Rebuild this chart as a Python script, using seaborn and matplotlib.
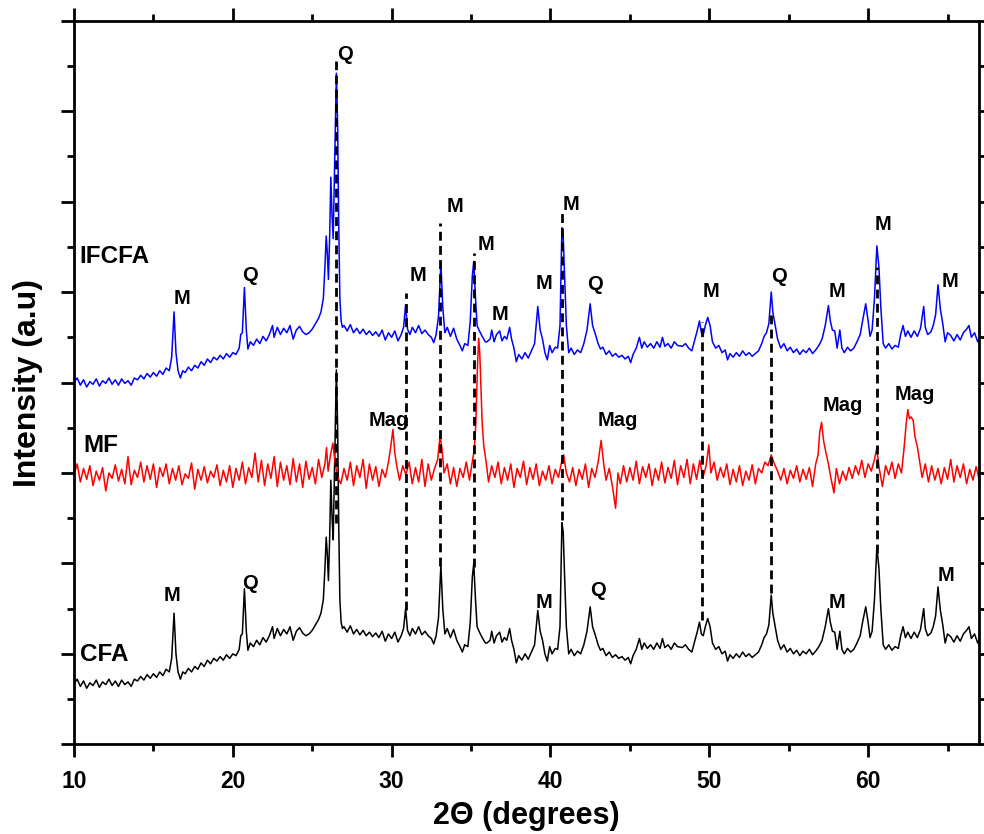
import matplotlib
matplotlib.use("Agg")
import matplotlib.pyplot as plt
import pandas as pd
import seaborn as sns
from matplotlib.ticker import MultipleLocator, NullFormatter

# (2theta, intensity) pairs for each pattern, already stacked on the a.u. scale
cfa_pattern = [
    (10.0, 0.67), (10.2, 0.72), (10.4, 0.64), (10.6, 0.70), (10.8, 0.62), (11.0, 0.68),
    (11.2, 0.65), (11.4, 0.71), (11.6, 0.63), (11.8, 0.69), (12.0, 0.66), (12.2, 0.72),
    (12.4, 0.65), (12.6, 0.70), (12.8, 0.64), (13.0, 0.71), (13.2, 0.66), (13.4, 0.69),
    (13.6, 0.64), (13.8, 0.72), (14.0, 0.70), (14.2, 0.75), (14.4, 0.71), (14.6, 0.77),
    (14.8, 0.73), (15.0, 0.78), (15.2, 0.74), (15.4, 0.80), (15.6, 0.76), (15.8, 0.83),
    (16.0, 0.80), (16.15, 0.95), (16.3, 1.45), (16.42, 1.00), (16.55, 0.80), (16.7, 0.72),
    (16.85, 0.80), (17.0, 0.78), (17.2, 0.84), (17.4, 0.80), (17.6, 0.86), (17.8, 0.83),
    (18.0, 0.90), (18.2, 0.86), (18.4, 0.93), (18.6, 0.89), (18.8, 0.95), (19.0, 0.92),
    (19.2, 0.97), (19.4, 0.93), (19.6, 0.99), (19.8, 0.95), (20.0, 1.00), (20.2, 0.98),
    (20.4, 1.05), (20.5, 1.20), (20.6, 1.22), (20.73, 1.72), (20.85, 1.25), (20.95, 1.04),
    (21.1, 1.12), (21.3, 1.08), (21.5, 1.15), (21.7, 1.10), (21.9, 1.18), (22.1, 1.13),
    (22.3, 1.20), (22.5, 1.30), (22.6, 1.17), (22.8, 1.28), (23.0, 1.20), (23.2, 1.27),
    (23.4, 1.22), (23.6, 1.30), (23.8, 1.15), (24.0, 1.25), (24.2, 1.29), (24.4, 1.23),
    (24.6, 1.20), (24.8, 1.22), (25.0, 1.26), (25.2, 1.32), (25.4, 1.38), (25.55, 1.45),
    (25.7, 1.60), (25.8, 1.95), (25.88, 2.29), (25.95, 2.10), (26.02, 1.81), (26.1, 2.30),
    (26.17, 2.92), (26.25, 2.50), (26.32, 2.26), (26.42, 3.20), (26.52, 4.14), (26.6, 3.50),
    (26.67, 2.40), (26.74, 1.60), (26.82, 1.35), (26.9, 1.28), (27.0, 1.30), (27.2, 1.24),
    (27.4, 1.31), (27.6, 1.22), (27.8, 1.27), (28.0, 1.21), (28.2, 1.26), (28.4, 1.20),
    (28.6, 1.24), (28.8, 1.19), (29.0, 1.23), (29.2, 1.18), (29.4, 1.25), (29.6, 1.14),
    (29.8, 1.22), (30.0, 1.17), (30.2, 1.24), (30.4, 1.13), (30.6, 1.20), (30.75, 1.28),
    (30.88, 1.50), (31.0, 1.26), (31.15, 1.20), (31.3, 1.28), (31.5, 1.22), (31.7, 1.30),
    (31.9, 1.21), (32.1, 1.25), (32.3, 1.20), (32.5, 1.17), (32.65, 1.11), (32.8, 1.20),
    (32.95, 1.40), (33.1, 1.98), (33.22, 1.50), (33.35, 1.22), (33.5, 1.28), (33.7, 1.18),
    (33.9, 1.27), (34.1, 1.15), (34.3, 1.08), (34.45, 1.02), (34.6, 1.10), (34.8, 1.08),
    (34.95, 1.35), (35.08, 1.85), (35.17, 2.00), (35.28, 1.60), (35.38, 1.30), (35.5, 1.25),
    (35.7, 1.18), (35.9, 1.12), (36.0, 1.12), (36.2, 1.15), (36.3, 1.25), (36.45, 1.12),
    (36.6, 1.20), (36.8, 1.24), (36.95, 1.13), (37.1, 1.18), (37.25, 1.15), (37.43, 1.28),
    (37.55, 1.15), (37.7, 1.05), (37.85, 0.90), (38.0, 0.98), (38.2, 0.93), (38.4, 1.00),
    (38.6, 0.94), (38.8, 1.02), (39.0, 1.10), (39.2, 1.48), (39.35, 1.25), (39.5, 1.15),
    (39.65, 1.00), (39.8, 0.92), (39.95, 1.08), (40.1, 1.00), (40.3, 1.06), (40.45, 1.05),
    (40.6, 1.30), (40.72, 2.45), (40.8, 2.35), (40.9, 1.80), (41.0, 1.30), (41.15, 1.00),
    (41.3, 1.05), (41.5, 0.98), (41.7, 1.03), (41.9, 1.00), (42.1, 1.10), (42.3, 1.25),
    (42.5, 1.52), (42.65, 1.30), (42.8, 1.22), (43.0, 1.10), (43.15, 1.04), (43.3, 1.06),
    (43.5, 0.98), (43.7, 1.02), (43.9, 0.96), (44.1, 0.99), (44.3, 0.95), (44.5, 0.97),
    (44.7, 0.93), (44.9, 0.96), (45.05, 0.89), (45.2, 0.98), (45.4, 1.05), (45.6, 1.17),
    (45.75, 1.05), (45.9, 1.12), (46.1, 1.06), (46.3, 1.10), (46.5, 1.05), (46.7, 1.12),
    (46.9, 1.06), (47.05, 1.17), (47.2, 1.07), (47.4, 1.10), (47.6, 1.05), (47.8, 1.12),
    (48.0, 1.08), (48.3, 1.07), (48.5, 1.10), (48.7, 1.05), (48.9, 1.02), (49.1, 1.15),
    (49.25, 1.25), (49.38, 1.35), (49.5, 1.22), (49.62, 1.20), (49.75, 1.30), (49.9, 1.39),
    (50.05, 1.30), (50.2, 1.12), (50.4, 1.05), (50.6, 1.08), (50.8, 1.00), (51.0, 1.03),
    (51.15, 0.92), (51.3, 0.99), (51.5, 0.95), (51.7, 1.00), (51.9, 0.96), (52.1, 1.02),
    (52.3, 0.97), (52.5, 1.00), (52.7, 0.96), (52.9, 0.99), (53.1, 1.02), (53.3, 1.10),
    (53.45, 1.18), (53.6, 1.22), (53.75, 1.32), (53.9, 1.65), (54.0, 1.45), (54.15, 1.30),
    (54.3, 1.15), (54.5, 1.05), (54.7, 1.10), (54.9, 1.02), (55.1, 1.06), (55.3, 1.00),
    (55.5, 1.04), (55.7, 0.98), (55.9, 1.03), (56.1, 1.00), (56.3, 1.05), (56.5, 0.99),
    (56.7, 1.03), (56.9, 1.08), (57.1, 1.15), (57.3, 1.30), (57.5, 1.50), (57.62, 1.35),
    (57.75, 1.25), (57.9, 1.24), (58.05, 1.05), (58.22, 1.25), (58.35, 1.05), (58.5, 1.00),
    (58.7, 1.06), (58.9, 1.02), (59.1, 1.05), (59.3, 1.12), (59.5, 1.20), (59.65, 1.35),
    (59.85, 1.52), (60.0, 1.35), (60.12, 1.18), (60.25, 1.25), (60.4, 1.60), (60.55, 2.18),
    (60.68, 1.95), (60.8, 1.50), (60.95, 1.10), (61.1, 1.05), (61.3, 1.10), (61.5, 1.04),
    (61.7, 1.08), (61.9, 1.06), (62.05, 1.20), (62.2, 1.30), (62.35, 1.18), (62.5, 1.24),
    (62.7, 1.17), (62.9, 1.24), (63.1, 1.18), (63.3, 1.27), (63.5, 1.50), (63.6, 1.28),
    (63.75, 1.20), (63.95, 1.23), (64.1, 1.30), (64.25, 1.42), (64.4, 1.74), (64.55, 1.48),
    (64.7, 1.32), (64.85, 1.12), (65.0, 1.22), (65.2, 1.19), (65.4, 1.13), (65.6, 1.20),
    (65.8, 1.14), (66.0, 1.22), (66.2, 1.26), (66.35, 1.30), (66.5, 1.17), (66.7, 1.22),
    (66.9, 1.12), (67.0, 1.16),
]

mf_pattern = [
    (10.0, 2.98), (10.2, 3.10), (10.4, 2.90), (10.6, 3.05), (10.8, 2.93), (11.0, 3.08),
    (11.2, 2.86), (11.4, 3.02), (11.6, 2.92), (11.8, 3.06), (12.0, 2.80), (12.2, 3.00),
    (12.4, 2.94), (12.6, 3.09), (12.8, 2.91), (13.0, 3.04), (13.2, 2.88), (13.4, 3.18),
    (13.6, 2.87), (13.8, 3.03), (14.0, 2.95), (14.2, 3.12), (14.4, 2.90), (14.6, 3.08),
    (14.8, 2.93), (15.0, 3.10), (15.2, 2.84), (15.4, 3.06), (15.6, 2.96), (15.8, 3.10),
    (16.0, 2.88), (16.2, 3.05), (16.4, 2.92), (16.6, 3.08), (16.8, 2.87), (17.0, 2.99),
    (17.2, 2.94), (17.4, 3.11), (17.6, 2.82), (17.8, 3.04), (18.0, 2.92), (18.2, 3.07),
    (18.4, 2.89), (18.6, 3.02), (18.8, 2.95), (19.0, 3.09), (19.2, 2.86), (19.4, 3.03),
    (19.6, 2.90), (19.8, 3.08), (20.0, 2.84), (20.2, 3.05), (20.4, 2.92), (20.6, 3.12),
    (20.8, 2.88), (21.0, 3.06), (21.2, 2.95), (21.4, 3.22), (21.6, 2.90), (21.8, 3.14),
    (22.0, 2.86), (22.2, 3.10), (22.4, 2.94), (22.6, 3.18), (22.8, 2.85), (23.0, 3.12),
    (23.2, 2.92), (23.4, 3.08), (23.6, 2.87), (23.8, 3.16), (24.0, 2.90), (24.2, 3.10),
    (24.4, 2.84), (24.6, 3.13), (24.8, 2.93), (25.0, 3.06), (25.2, 2.88), (25.4, 3.15),
    (25.6, 2.95), (25.8, 3.10), (25.9, 3.28), (26.0, 3.02), (26.15, 3.20), (26.3, 3.33),
    (26.45, 3.10), (26.6, 2.95), (26.8, 2.88), (27.0, 3.05), (27.2, 2.92), (27.4, 3.12),
    (27.6, 2.86), (27.8, 3.08), (28.0, 2.95), (28.2, 3.15), (28.4, 2.83), (28.6, 3.10),
    (28.8, 2.92), (29.0, 3.07), (29.2, 2.85), (29.4, 3.04), (29.6, 2.95), (29.8, 3.12),
    (29.95, 3.30), (30.08, 3.48), (30.2, 3.22), (30.35, 3.05), (30.5, 2.92), (30.7, 3.08),
    (30.9, 2.98), (31.1, 3.12), (31.3, 2.88), (31.5, 3.06), (31.7, 2.90), (31.9, 3.15),
    (32.1, 2.85), (32.3, 3.10), (32.5, 2.92), (32.7, 3.05), (32.9, 3.15), (33.05, 3.42),
    (33.18, 3.25), (33.3, 3.00), (33.5, 3.10), (33.7, 2.88), (33.9, 3.06), (34.1, 2.85),
    (34.3, 3.05), (34.5, 2.95), (34.7, 3.12), (34.9, 2.92), (35.1, 3.15), (35.2, 3.25),
    (35.3, 3.55), (35.4, 4.15), (35.48, 4.49), (35.55, 4.32), (35.62, 3.95), (35.7, 3.55),
    (35.8, 3.30), (35.95, 3.12), (36.1, 2.90), (36.3, 3.08), (36.5, 2.95), (36.7, 3.12),
    (36.9, 2.88), (37.1, 3.06), (37.3, 2.92), (37.5, 3.10), (37.7, 2.84), (37.9, 3.05),
    (38.1, 2.95), (38.3, 3.13), (38.5, 2.87), (38.7, 3.06), (38.9, 2.93), (39.1, 3.10),
    (39.3, 2.86), (39.5, 3.02), (39.7, 2.92), (39.9, 3.08), (40.1, 2.88), (40.3, 3.04),
    (40.5, 2.95), (40.7, 3.12), (40.83, 3.20), (41.0, 3.00), (41.2, 2.90), (41.4, 3.06),
    (41.6, 2.86), (41.8, 3.04), (42.0, 2.93), (42.2, 3.10), (42.4, 2.84), (42.6, 3.05),
    (42.8, 2.95), (43.0, 3.12), (43.19, 3.36), (43.35, 3.10), (43.5, 2.92), (43.7, 3.05),
    (43.9, 2.85), (44.1, 2.61), (44.25, 3.00), (44.4, 2.88), (44.6, 3.08), (44.8, 2.90),
    (45.0, 3.06), (45.2, 2.92), (45.4, 3.13), (45.6, 2.88), (45.8, 3.07), (46.0, 2.95),
    (46.2, 3.10), (46.4, 2.86), (46.6, 3.05), (46.8, 2.92), (47.0, 3.12), (47.2, 2.89),
    (47.4, 3.06), (47.6, 2.94), (47.8, 3.14), (48.0, 2.87), (48.2, 3.08), (48.4, 2.95),
    (48.6, 3.15), (48.8, 2.88), (49.0, 3.10), (49.2, 2.93), (49.4, 3.14), (49.6, 2.95),
    (49.8, 3.08), (49.97, 3.31), (50.1, 3.00), (50.3, 3.12), (50.5, 2.92), (50.7, 3.06),
    (50.9, 2.95), (51.1, 3.10), (51.3, 2.87), (51.5, 3.04), (51.7, 2.90), (51.9, 3.08),
    (52.1, 2.86), (52.3, 3.02), (52.5, 2.92), (52.7, 3.09), (52.9, 2.88), (53.1, 3.05),
    (53.3, 3.00), (53.5, 3.12), (53.7, 3.08), (53.9, 3.20), (54.1, 3.10), (54.3, 3.02),
    (54.5, 2.92), (54.7, 3.05), (54.9, 2.88), (55.1, 3.03), (55.3, 2.94), (55.5, 3.08),
    (55.7, 2.90), (55.9, 3.04), (56.1, 2.93), (56.3, 3.06), (56.5, 2.85), (56.7, 3.10),
    (56.85, 3.20), (56.95, 3.45), (57.07, 3.56), (57.2, 3.35), (57.35, 3.22), (57.5, 3.10),
    (57.65, 2.95), (57.85, 2.78), (58.0, 3.05), (58.2, 2.88), (58.4, 3.02), (58.6, 2.92),
    (58.8, 3.06), (59.0, 2.94), (59.2, 3.08), (59.4, 2.98), (59.6, 3.14), (59.8, 2.95),
    (60.0, 3.10), (60.2, 3.02), (60.4, 3.15), (60.54, 3.27), (60.7, 3.05), (60.9, 2.85),
    (61.1, 3.08), (61.3, 2.98), (61.5, 3.12), (61.7, 2.94), (61.9, 3.10), (62.1, 3.00),
    (62.25, 3.25), (62.4, 3.55), (62.5, 3.70), (62.6, 3.60), (62.7, 3.62), (62.84, 3.58),
    (62.95, 3.40), (63.1, 3.29), (63.25, 3.12), (63.4, 2.95), (63.6, 3.10), (63.8, 2.90),
    (64.0, 3.08), (64.2, 2.92), (64.4, 3.05), (64.6, 2.88), (64.8, 3.06), (65.0, 2.93),
    (65.2, 3.15), (65.4, 2.90), (65.6, 3.08), (65.8, 2.95), (66.0, 3.10), (66.2, 2.88),
    (66.4, 3.04), (66.6, 2.92), (66.8, 3.07), (67.0, 2.92),
]

ifcfa_pattern = [
    (10.0, 4.00), (10.2, 4.05), (10.4, 3.97), (10.6, 4.03), (10.8, 3.95), (11.0, 4.01),
    (11.2, 3.98), (11.4, 4.04), (11.6, 3.96), (11.8, 4.02), (12.0, 3.99), (12.2, 4.05),
    (12.4, 3.98), (12.6, 4.03), (12.8, 3.97), (13.0, 4.04), (13.2, 3.99), (13.4, 4.02),
    (13.6, 3.97), (13.8, 4.05), (14.0, 4.03), (14.2, 4.08), (14.4, 4.04), (14.6, 4.10),
    (14.8, 4.06), (15.0, 4.11), (15.2, 4.07), (15.4, 4.13), (15.6, 4.09), (15.8, 4.16),
    (16.0, 4.13), (16.15, 4.28), (16.3, 4.78), (16.42, 4.33), (16.55, 4.13), (16.7, 4.05),
    (16.85, 4.13), (17.0, 4.11), (17.2, 4.17), (17.4, 4.13), (17.6, 4.19), (17.8, 4.16),
    (18.0, 4.23), (18.2, 4.19), (18.4, 4.26), (18.6, 4.22), (18.8, 4.28), (19.0, 4.25),
    (19.2, 4.30), (19.4, 4.26), (19.6, 4.32), (19.8, 4.28), (20.0, 4.33), (20.2, 4.31),
    (20.4, 4.38), (20.5, 4.53), (20.6, 4.55), (20.73, 5.05), (20.85, 4.58), (20.95, 4.37),
    (21.1, 4.45), (21.3, 4.41), (21.5, 4.48), (21.7, 4.43), (21.9, 4.51), (22.1, 4.46),
    (22.3, 4.53), (22.5, 4.63), (22.6, 4.50), (22.8, 4.61), (23.0, 4.53), (23.2, 4.60),
    (23.4, 4.55), (23.6, 4.63), (23.8, 4.48), (24.0, 4.58), (24.2, 4.62), (24.4, 4.56),
    (24.6, 4.53), (24.8, 4.55), (25.0, 4.59), (25.2, 4.65), (25.4, 4.71), (25.55, 4.78),
    (25.7, 4.93), (25.8, 5.28), (25.88, 5.62), (25.95, 5.43), (26.02, 5.14), (26.1, 5.63),
    (26.17, 6.27), (26.25, 5.83), (26.32, 5.59), (26.42, 6.53), (26.52, 7.42), (26.6, 6.83),
    (26.67, 5.73), (26.74, 4.93), (26.82, 4.68), (26.9, 4.61), (27.0, 4.63), (27.2, 4.57),
    (27.4, 4.64), (27.6, 4.55), (27.8, 4.60), (28.0, 4.54), (28.2, 4.59), (28.4, 4.53),
    (28.6, 4.57), (28.8, 4.52), (29.0, 4.56), (29.2, 4.51), (29.4, 4.58), (29.6, 4.47),
    (29.8, 4.55), (30.0, 4.50), (30.2, 4.57), (30.4, 4.46), (30.6, 4.53), (30.75, 4.61),
    (30.88, 4.86), (31.0, 4.59), (31.15, 4.53), (31.3, 4.61), (31.5, 4.55), (31.7, 4.63),
    (31.9, 4.54), (32.1, 4.58), (32.3, 4.53), (32.5, 4.50), (32.65, 4.44), (32.8, 4.53),
    (32.95, 4.73), (33.1, 5.32), (33.22, 4.83), (33.35, 4.55), (33.5, 4.61), (33.7, 4.51),
    (33.9, 4.60), (34.1, 4.48), (34.3, 4.41), (34.45, 4.35), (34.6, 4.43), (34.8, 4.41),
    (34.95, 4.68), (35.08, 5.18), (35.17, 5.34), (35.28, 4.93), (35.38, 4.63), (35.5, 4.58),
    (35.7, 4.51), (35.9, 4.45), (36.0, 4.45), (36.2, 4.48), (36.3, 4.58), (36.45, 4.45),
    (36.6, 4.53), (36.8, 4.57), (36.95, 4.46), (37.1, 4.51), (37.25, 4.48), (37.43, 4.61),
    (37.55, 4.48), (37.7, 4.38), (37.85, 4.23), (38.0, 4.31), (38.2, 4.26), (38.4, 4.33),
    (38.6, 4.27), (38.8, 4.35), (39.0, 4.43), (39.2, 4.84), (39.35, 4.58), (39.5, 4.48),
    (39.65, 4.33), (39.8, 4.25), (39.95, 4.41), (40.1, 4.33), (40.3, 4.39), (40.45, 4.38),
    (40.6, 4.63), (40.72, 5.71), (40.8, 5.62), (40.9, 5.13), (41.0, 4.63), (41.15, 4.33),
    (41.3, 4.38), (41.5, 4.31), (41.7, 4.36), (41.9, 4.33), (42.1, 4.43), (42.3, 4.58),
    (42.5, 4.87), (42.65, 4.63), (42.8, 4.55), (43.0, 4.43), (43.15, 4.37), (43.3, 4.39),
    (43.5, 4.31), (43.7, 4.35), (43.9, 4.29), (44.1, 4.32), (44.3, 4.28), (44.5, 4.30),
    (44.7, 4.26), (44.9, 4.29), (45.05, 4.22), (45.2, 4.31), (45.4, 4.38), (45.6, 4.50),
    (45.75, 4.38), (45.9, 4.45), (46.1, 4.39), (46.3, 4.43), (46.5, 4.38), (46.7, 4.45),
    (46.9, 4.39), (47.05, 4.50), (47.2, 4.40), (47.4, 4.43), (47.6, 4.38), (47.8, 4.45),
    (48.0, 4.41), (48.3, 4.40), (48.5, 4.43), (48.7, 4.38), (48.9, 4.35), (49.1, 4.48),
    (49.25, 4.58), (49.38, 4.68), (49.5, 4.55), (49.62, 4.53), (49.75, 4.63), (49.9, 4.72),
    (50.05, 4.63), (50.2, 4.45), (50.4, 4.38), (50.6, 4.41), (50.8, 4.33), (51.0, 4.36),
    (51.15, 4.25), (51.3, 4.32), (51.5, 4.28), (51.7, 4.33), (51.9, 4.29), (52.1, 4.35),
    (52.3, 4.30), (52.5, 4.33), (52.7, 4.29), (52.9, 4.32), (53.1, 4.35), (53.3, 4.43),
    (53.45, 4.51), (53.6, 4.55), (53.75, 4.65), (53.9, 5.00), (54.0, 4.78), (54.15, 4.63),
    (54.3, 4.48), (54.5, 4.38), (54.7, 4.43), (54.9, 4.35), (55.1, 4.39), (55.3, 4.33),
    (55.5, 4.37), (55.7, 4.31), (55.9, 4.36), (56.1, 4.33), (56.3, 4.38), (56.5, 4.32),
    (56.7, 4.36), (56.9, 4.41), (57.1, 4.48), (57.3, 4.63), (57.5, 4.85), (57.62, 4.68),
    (57.75, 4.58), (57.9, 4.57), (58.05, 4.38), (58.22, 4.58), (58.35, 4.38), (58.5, 4.33),
    (58.7, 4.39), (58.9, 4.35), (59.1, 4.38), (59.3, 4.45), (59.5, 4.53), (59.65, 4.68),
    (59.85, 4.87), (60.0, 4.68), (60.12, 4.51), (60.25, 4.58), (60.4, 4.93), (60.55, 5.51),
    (60.68, 5.28), (60.8, 4.83), (60.95, 4.43), (61.1, 4.38), (61.3, 4.43), (61.5, 4.37),
    (61.7, 4.41), (61.9, 4.39), (62.05, 4.53), (62.2, 4.63), (62.35, 4.51), (62.5, 4.57),
    (62.7, 4.50), (62.9, 4.57), (63.1, 4.51), (63.3, 4.60), (63.5, 4.84), (63.6, 4.61),
    (63.75, 4.53), (63.95, 4.56), (64.1, 4.63), (64.25, 4.75), (64.4, 5.08), (64.55, 4.81),
    (64.7, 4.65), (64.85, 4.45), (65.0, 4.55), (65.2, 4.52), (65.4, 4.46), (65.6, 4.53),
    (65.8, 4.47), (66.0, 4.55), (66.2, 4.59), (66.35, 4.63), (66.5, 4.50), (66.7, 4.55),
    (66.9, 4.45), (67.0, 4.49),
]

sample_names = ["CFA", "MF", "IFCFA"]
sample_colors = ["black", "red", "blue"]

# Reflections shared by the patterns: 2theta and the span of the guide line
guide_2theta = [26.52, 30.88, 33.07, 35.2, 40.7, 49.57, 53.9, 60.58]
guide_top = [7.55, 4.99, 5.76, 5.43, 5.90, 4.67, 4.78, 5.28]
guide_bottom = [2.45, 1.48, 1.97, 1.96, 2.48, 1.37, 1.67, 2.11]

# Phase labels: M = mullite, Q = quartz, Mag = magnetite (text, 2theta, baseline)
phase_text = ["M", "Q", "Q", "M", "M", "M", "M", "M", "M", "Q", "M", "Q", "M", "M", "M",
              "Mag", "Mag", "Mag", "Mag",
              "M", "Q", "M", "Q", "M", "M"]
phase_2theta = [16.80, 21.08, 27.07, 31.66, 34.02, 35.94, 36.81, 39.60, 41.30, 42.78,
                50.11, 54.40, 58.05, 60.91, 65.16,
                29.84, 44.26, 58.39, 62.96,
                16.20, 21.08, 39.60, 42.97, 58.05, 64.91]
phase_level = [4.87, 5.12, 7.57, 5.12, 5.89, 5.47, 4.69, 5.03, 5.91, 5.02,
               4.94, 5.11, 4.94, 5.69, 5.06,
               3.52, 3.52, 3.68, 3.81,
               1.58, 1.72, 1.51, 1.64, 1.51, 1.80]

# Sample names written beside each pattern (2theta, baseline)
name_2theta = [10.37, 10.62, 10.35]
name_level = [0.92, 3.23, 5.32]

frames = []
for name, pattern in zip(sample_names, [cfa_pattern, mf_pattern, ifcfa_pattern]):
    df = pd.DataFrame(pattern, columns=["two_theta", "intensity"])
    df["sample"] = name
    frames.append(df)
data = pd.concat(frames, ignore_index=True)

sns.set_theme(style="ticks")
plt.rcParams["font.family"] = ["Liberation Sans", "DejaVu Sans"]
plt.rcParams["font.weight"] = "bold"
plt.rcParams["axes.labelweight"] = "bold"
plt.rcParams["text.color"] = "black"
plt.rcParams["axes.labelcolor"] = "black"
plt.rcParams["xtick.color"] = "black"
plt.rcParams["ytick.color"] = "black"
plt.rcParams["xtick.labelcolor"] = "black"
plt.rcParams["axes.edgecolor"] = "black"

fig = plt.figure(figsize=(9.84, 8.34), dpi=100)
ax = fig.add_axes([0.0752, 0.10755, 0.92002, 0.86763])

sns.lineplot(data=data, x="two_theta", y="intensity", hue="sample",
             hue_order=sample_names, palette=sample_colors, estimator=None,
             sort=False, linewidth=1.1, legend=False, ax=ax, zorder=2)

for x, top, bottom in zip(guide_2theta, guide_top, guide_bottom):
    ax.plot([x, x], [bottom, top], color="black", linewidth=2.0,
            linestyle=(0, (3.2, 1.9)), zorder=3)

for txt, x, y in zip(phase_text, phase_2theta, phase_level):
    ax.text(x, y, txt, ha="center", va="baseline", fontsize=14.5,
            fontweight="bold", color="black", zorder=4)

for txt, x, y in zip(sample_names, name_2theta, name_level):
    ax.text(x, y, txt, ha="left", va="baseline", fontsize=17.5,
            fontweight="bold", color="black", zorder=4)

ax.set_xlim(10, 67)
ax.set_ylim(0, 8)
ax.xaxis.set_major_locator(MultipleLocator(10))
ax.xaxis.set_minor_locator(MultipleLocator(5))
ax.yaxis.set_major_locator(MultipleLocator(1))
ax.yaxis.set_minor_locator(MultipleLocator(0.5))
ax.yaxis.set_major_formatter(NullFormatter())

for side in ["left", "right", "top", "bottom"]:
    ax.spines[side].set_visible(True)
    ax.spines[side].set_linewidth(2.0)
    ax.spines[side].set_color("black")

ax.tick_params(which="both", direction="out", top=True, right=True,
               labeltop=False, labelright=False, labelleft=False,
               width=2.0, color="black", labelcolor="black")
ax.tick_params(which="major", length=9.5, pad=9, labelsize=16.5)
ax.tick_params(which="minor", length=5)
for lab in ax.get_xticklabels():
    lab.set_fontweight("bold")
    lab.set_color("black")

ax.set_xlabel("2Θ (degrees)", fontsize=22, fontweight="bold", labelpad=6,
              color="black")
ax.set_ylabel("Intensity (a.u)", fontsize=23, fontweight="bold", labelpad=13,
              color="black")
ax.set_facecolor("white")
fig.patch.set_facecolor("white")

fig.savefig("out.png", dpi=100)
